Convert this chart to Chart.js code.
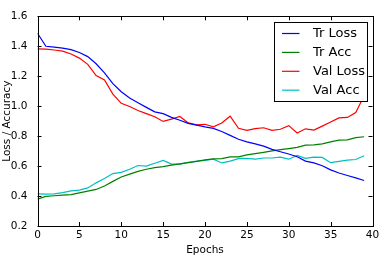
<!DOCTYPE html>
<html><head><meta charset="utf-8">
<script src="https://cdn.jsdelivr.net/npm/chart.js@4/dist/chart.umd.min.js"></script>
<style>html,body{margin:0;padding:0;background:#fff}#wrap{width:385px;height:262px}</style>
</head><body><div id="wrap"><canvas id="c" width="385" height="262"></canvas></div>
<script>
const epochs = [0,1,2,3,4,5,6,7,8,9,10,11,12,13,14,15,16,17,18,19,20,21,22,23,24,25,26,27,28,29,30,31,32,33,34,35,36,37,38,39];
const trLoss = [1.487,1.400,1.394,1.388,1.377,1.358,1.331,1.283,1.223,1.150,1.096,1.054,1.023,0.992,0.962,0.950,0.925,0.906,0.885,0.874,0.862,0.852,0.831,0.805,0.779,0.762,0.748,0.733,0.712,0.696,0.681,0.662,0.633,0.621,0.602,0.575,0.554,0.537,0.521,0.504];
const trAcc = [0.379,0.398,0.402,0.406,0.410,0.421,0.433,0.444,0.467,0.498,0.527,0.546,0.565,0.579,0.590,0.596,0.606,0.615,0.623,0.631,0.642,0.648,0.650,0.662,0.662,0.675,0.683,0.692,0.702,0.710,0.717,0.725,0.740,0.742,0.748,0.762,0.773,0.775,0.790,0.796];
const valLoss = [1.383,1.381,1.375,1.367,1.348,1.321,1.279,1.204,1.175,1.081,1.019,0.998,0.971,0.950,0.929,0.898,0.914,0.931,0.888,0.875,0.879,0.862,0.888,0.933,0.852,0.838,0.850,0.856,0.838,0.846,0.870,0.821,0.849,0.840,0.867,0.894,0.922,0.925,0.957,1.070];
const valAcc = [0.415,0.413,0.415,0.423,0.435,0.440,0.454,0.488,0.517,0.550,0.558,0.579,0.604,0.600,0.619,0.638,0.613,0.613,0.625,0.633,0.638,0.646,0.621,0.633,0.650,0.652,0.646,0.654,0.654,0.660,0.646,0.671,0.652,0.660,0.658,0.623,0.631,0.640,0.644,0.669];
const seriesNames = ['Tr Loss','Tr Acc','Val Loss','Val Acc'];
const seriesColors = ['#0000ff','#008000','#ff0000','#00bfbf'];
const xTicks = [0,5,10,15,20,25,30,35,40];
const yTicks = [0.2,0.4,0.6,0.8,1.0,1.2,1.4,1.6];
const xTitle = 'Epochs';
const yTitle = 'Loss / Accuracy';

const FONT = "'DejaVu Sans'";
const allSeries = [trLoss, trAcc, valLoss, valAcc];
const datasets = allSeries.map((s, i) => ({
  label: seriesNames[i],
  data: epochs.map((e, j) => ({x: e, y: s[j]})),
  borderColor: seriesColors[i],
  backgroundColor: seriesColors[i],
  borderWidth: 1.2,
  pointRadius: 0,
  tension: 0,
  fill: false
}));

const framePlugin = {
  id: 'frame',
  afterDatasetsDraw(chart) {
    const {ctx, chartArea: a, scales} = chart;
    ctx.save();
    ctx.strokeStyle = '#000';
    ctx.lineWidth = 1;
    const L = 4;
    ctx.beginPath();
    xTicks.forEach(v => {
      const px = Math.round(scales.x.getPixelForValue(v)) + 0.5;
      ctx.moveTo(px, a.top); ctx.lineTo(px, a.top + L);
      ctx.moveTo(px, a.bottom); ctx.lineTo(px, a.bottom - L);
    });
    yTicks.forEach(v => {
      const py = Math.round(scales.y.getPixelForValue(v)) + 0.5;
      ctx.moveTo(a.left, py); ctx.lineTo(a.left + L, py);
      ctx.moveTo(a.right, py); ctx.lineTo(a.right - L, py);
    });
    ctx.stroke();
    ctx.strokeRect(Math.round(a.left) + 0.5, Math.round(a.top) + 0.5, Math.round(a.right - a.left), Math.round(a.bottom - a.top));
    // legend
    const bw = 93, bh = 79;
    const bx = Math.round(a.right - 5.5 - bw) + 0.5, by = Math.round(a.top + 6) + 0.5;
    ctx.fillStyle = '#fff';
    ctx.fillRect(bx, by, bw, bh);
    ctx.strokeRect(bx, by, bw, bh);
    ctx.font = '13px ' + FONT;
    ctx.textBaseline = 'middle';
    ctx.textAlign = 'left';
    chart.data.datasets.forEach((d, i) => {
      const cy = by + 11 + i * 18.9;
      ctx.strokeStyle = d.borderColor;
      ctx.lineWidth = 1.2;
      ctx.beginPath();
      ctx.moveTo(bx + 7.5, cy); ctx.lineTo(bx + 25, cy);
      ctx.stroke();
      ctx.fillStyle = '#000';
      ctx.fillText(d.label, bx + 38.5, cy);
    });
    ctx.restore();
  }
};

new Chart(document.getElementById('c'), {
  type: 'line',
  data: {datasets},
  options: {
    responsive: false,
    devicePixelRatio: 1,
    animation: false,
    layout: {padding: {top: 3, right: 12.5, left: 0, bottom: 0}},
    plugins: {legend: {display: false}, tooltip: {enabled: false}, title: {display: false}},
    scales: {
      x: {
        type: 'linear', min: 0, max: 40,
        afterBuildTicks: s => { s.ticks = xTicks.map(v => ({value: v})); },
        afterFit: s => { s.height = 36; },
        grid: {display: false, drawTicks: false},
        border: {display: false},
        ticks: {color: '#000', font: {family: FONT, size: 10.5}, padding: 3, maxRotation: 0, autoSkip: false,
                callback: v => String(v)},
        title: {display: true, text: xTitle, color: '#000', font: {family: FONT, size: 10.5}, padding: {top: 0, bottom: 5.5}}
      },
      y: {
        type: 'linear', min: 0.2, max: 1.6,
        afterBuildTicks: s => { s.ticks = yTicks.map(v => ({value: v})); },
        afterFit: s => { s.width = 37.5; },
        grid: {display: false, drawTicks: false},
        border: {display: false},
        ticks: {color: '#000', font: {family: FONT, size: 10.5}, padding: 10, autoSkip: false,
                callback: v => Number(v).toFixed(1)},
        title: {display: true, text: yTitle, color: '#000', font: {family: FONT, size: 10.5}, padding: {top: 1, bottom: 0}}
      }
    }
  },
  plugins: [framePlugin]
});
</script></body></html>
